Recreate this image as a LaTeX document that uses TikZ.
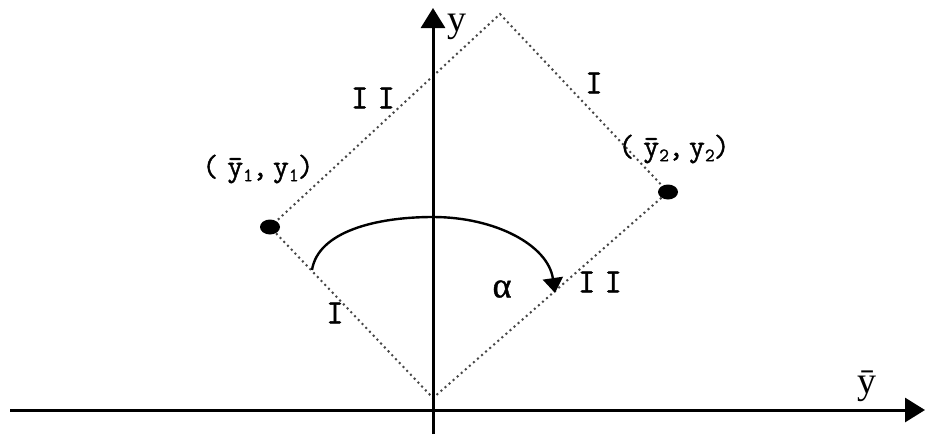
\documentclass[tikz,border=0pt]{standalone}
\usepackage{fontspec}
\setmainfont{Liberation Serif}
\newfontfamily\monofnt{Latin Modern Mono}[FakeBold=1.2]
\newfontfamily\grkfnt{Liberation Serif}[FakeBold=1]
\usetikzlibrary{arrows.meta,shapes.geometric}
\newcommand\mysub[1]{\raisebox{-5pt}{\fontsize{19}{19}\selectfont #1}}
\begin{document}
\begin{tikzpicture}[x=1pt,y=-1pt,
  axis/.style={line width=3pt,-{Triangle[length=20pt,width=24pt]}},
  dotline/.style={gray!55!black,line width=2pt,dash pattern=on 2pt off 3.4pt},
  blob/.style={ellipse,fill=black,minimum width=20pt,minimum height=15pt,inner sep=0pt},
  roman/.style={font=\monofnt\fontsize{34}{34}\selectfont,inner sep=0pt},
  coordlab/.style={font=\monofnt\fontsize{31}{31}\selectfont,inner sep=0pt},
  axlab/.style={font=\fontsize{38}{38}\selectfont,inner sep=0pt},
  arcline/.style={line width=2.4pt,-{Triangle[length=15pt,width=20pt]}}]
\useasboundingbox (0,0) rectangle (925,434);
% axis anchors
\coordinate (yb) at (433,434);
\coordinate (yt) at (433,8);
\coordinate (xl) at (10,410);
\coordinate (xr) at (925,410);
% square vertices
\coordinate (B) at (433,398);
\coordinate (T) at (500,14);
\coordinate (L) at (270,227);
\coordinate (R) at (668,192);
% arc points
\coordinate (a1) at (312,270);
\coordinate (a2) at (433,217);
\coordinate (a3) at (555,293);
% dotted square
\draw[dotline] (L) -- (T) -- (R) -- (B) -- cycle;
% axes
\draw[axis] (yb) -- (yt);
\draw[axis] (xl) -- (xr);
% arc with arrow
\draw[arcline] (a1) .. controls (318,232) and (375,217) .. (a2)
  .. controls (495,217) and (548,245) .. (a3);
% points
\node[blob] (p1) at (L) {};
\node[blob] (p2) at (R) {};
% labels
\node[axlab] (ly) at (457,27) {y};
\node[axlab] (lyb) at (867,386) {\=y};
\node[roman] (t1) at (373,98) {I\kern9pt I};
\node[roman] (t2) at (594,83) {I};
\node[roman] (t3) at (335,313) {I};
\node[roman] (t4) at (600,282) {I\kern9pt I};
\node[inner sep=0pt] (al) at (502,289) {\grkfnt\fontsize{36}{36}\selectfont α};
\node[coordlab] (c1) at (258,169) {(\kern9pt\=y\mysub{1}\kern-1pt,\kern5pt y\mysub{1}\kern-1pt)};
\node[coordlab] (c2) at (674,149) {(\kern9pt\=y\mysub{2}\kern-1pt,\kern5pt y\mysub{2}\kern-1pt)};
\end{tikzpicture}
\end{document}
